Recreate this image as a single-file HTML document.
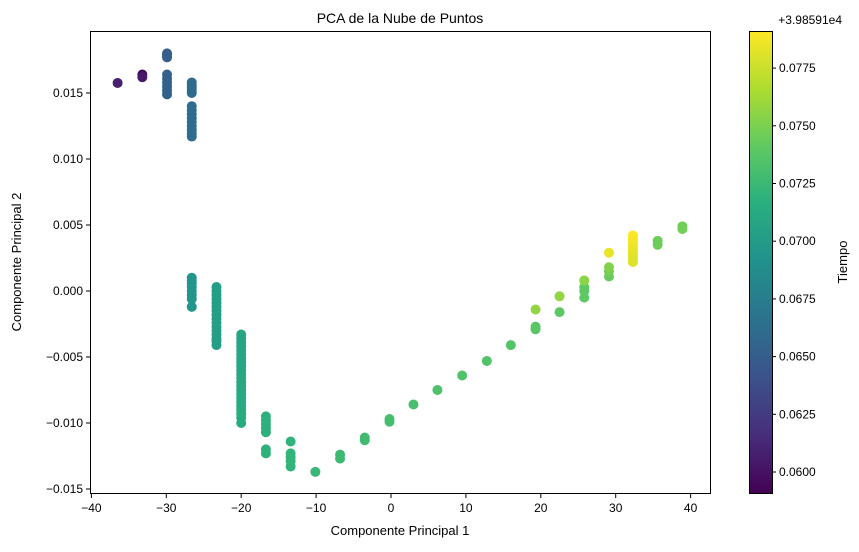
<!DOCTYPE html>
<html><head><meta charset="utf-8"><style>
body{margin:0;background:#fff;font-family:"Liberation Sans",sans-serif;}
svg text{font-family:"Liberation Sans",sans-serif;fill:#000;}
</style></head><body>
<svg id="chart" width="859" height="547" xmlns="http://www.w3.org/2000/svg">
<defs><linearGradient id="vir" x1="0" y1="1" x2="0" y2="0">
<stop offset="0" stop-color="#440154"/><stop offset="0.125" stop-color="#472d7b"/><stop offset="0.25" stop-color="#3b528b"/><stop offset="0.375" stop-color="#2c728e"/><stop offset="0.5" stop-color="#21918c"/><stop offset="0.625" stop-color="#28ae80"/><stop offset="0.75" stop-color="#5ec962"/><stop offset="0.875" stop-color="#addc30"/><stop offset="1" stop-color="#fde725"/></linearGradient></defs>
<text x="400" y="23" font-size="14" text-anchor="middle">PCA de la Nube de Puntos</text>
<g id="plot"></g>
<rect x="90.5" y="31.5" width="620" height="462" fill="none" stroke="#000" stroke-width="1"/>
<g id="xticks"></g><g id="yticks"></g>
<text x="400" y="535" font-size="13" text-anchor="middle">Componente Principal 1</text>
<text transform="translate(21,262) rotate(-90)" font-size="13" text-anchor="middle">Componente Principal 2</text>
<rect x="749.5" y="31.5" width="23" height="462" fill="url(#vir)" stroke="#000" stroke-width="1"/>
<g id="cticks"></g>
<text x="842" y="24" font-size="12" text-anchor="end">+3.98591e4</text>
<text transform="translate(847,262) rotate(-90)" font-size="13" text-anchor="middle">Tiempo</text>
</svg>
<script>
const px=[-36.5,-33.2,-33.2,
-29.9,-29.9,-29.9,-29.9,-29.9,-29.9,-29.9,-29.9,-29.9,-29.9,
-26.6,-26.6,-26.6,-26.6,-26.6,-26.6,-26.6,-26.6,-26.6,-26.6,-26.6,-26.6,-26.6,
-26.6,-26.6,-26.6,-26.6,-26.6,-26.6,-26.6,-26.6,-26.6,
-23.3,-23.3,-23.3,-23.3,-23.3,-23.3,-23.3,-23.3,-23.3,-23.3,-23.3,-23.3,-23.3,-23.3,-23.3,-23.3,
-20,-20,-20,-20,-20,-20,-20,-20,-20,-20,-20,-20,-20,-20,-20,-20,-20,-20,-20,-20,-20,-20,-20,
-16.7,-16.7,-16.7,-16.7,-16.7,-16.7,-16.7,
-13.4,-13.4,-13.4,-13.4,-13.4,
-10.1,-6.8,-6.8,-3.5,-3.5,-0.2,-0.2,3,6.2,9.5,12.8,16,19.3,19.3,19.3,22.5,22.5,25.8,25.8,25.8,25.8,29.1,29.1,29.1,29.1,
32.3,32.3,32.3,32.3,32.3,32.3,32.3,32.3,32.3,32.3,32.3,35.6,35.6,38.9,38.9];
const py=[0.01576,0.0164,0.0162,
0.0180,0.0179,0.0178,0.0177,0.0164,0.0161,0.0158,0.0155,0.0152,0.0149,
0.0158,0.0156,0.0154,0.0152,0.0150,0.0140,0.0137,0.0134,0.0131,0.0128,0.0125,0.0122,0.0119,
0.0117,0.0010,0.0008,0.0006,0.0003,0.0000,-0.0003,-0.0006,-0.0012,
0.0003,0.0000,-0.0003,-0.0006,-0.0009,-0.0012,-0.0015,-0.0018,-0.0021,-0.0024,-0.0027,-0.0030,-0.0033,-0.0036,-0.0038,-0.0041,
-0.0033,-0.0036,-0.0039,-0.0042,-0.0045,-0.0048,-0.0051,-0.0054,-0.0057,-0.0060,-0.0063,-0.0066,-0.0069,-0.0072,-0.0075,-0.0078,-0.0081,-0.0084,-0.0087,-0.0090,-0.0093,-0.0096,-0.0100,
-0.0095,-0.0098,-0.0101,-0.0104,-0.0107,-0.0120,-0.0123,
-0.0114,-0.0123,-0.0126,-0.0129,-0.0133,
-0.0137,-0.0124,-0.0127,-0.0111,-0.0113,-0.0097,-0.0099,-0.0086,-0.0075,-0.0064,-0.0053,-0.0041,-0.0027,-0.0029,-0.0014,-0.0016,-0.0004,0.0003,0.0000,-0.0005,0.0008,0.0011,0.0015,0.0018,0.0029,
0.0042,0.0040,0.0038,0.0036,0.0034,0.0032,0.0030,0.0028,0.0026,0.0024,0.0022,0.0038,0.0035,0.0049,0.0047];
const pt=[0.0608,0.0595,0.0605,
0.0650,0.0650,0.0650,0.0650,0.0652,0.0652,0.0652,0.0652,0.0652,0.0652,
0.0660,0.0660,0.0660,0.0660,0.0660,0.0661,0.0661,0.0661,0.0661,0.0661,0.0661,0.0661,0.0661,
0.0661,0.0695,0.0695,0.0695,0.0695,0.0695,0.0695,0.0695,0.0695,
0.0703,0.0703,0.0703,0.0703,0.0703,0.0703,0.0703,0.0703,0.0703,0.0703,0.0703,0.0703,0.0703,0.0703,0.0703,0.0703,
0.0708,0.0708,0.0708,0.0709,0.0709,0.0709,0.0709,0.0710,0.0710,0.0710,0.0710,0.0711,0.0711,0.0711,0.0711,0.0712,0.0712,0.0712,0.0712,0.0713,0.0713,0.0713,0.0713,
0.0718,0.0718,0.0718,0.0718,0.0718,0.0719,0.0719,
0.0720,0.0721,0.0721,0.0721,0.0721,
0.0724,0.0726,0.0726,0.0728,0.0728,0.0730,0.0730,0.0732,0.0733,0.0734,0.0735,0.0736,0.0738,0.0738,0.0757,0.0740,0.0757,0.0741,0.0741,0.0741,0.0755,0.0743,0.0748,0.0752,0.0785,
0.0791,0.0790,0.0789,0.0788,0.0787,0.0786,0.0785,0.0784,0.0783,0.0782,0.0781,0.0746,0.0746,0.0747,0.0747];
const xTicks=[-40,-30,-20,-10,0,10,20,30,40];
const yTicks=[-0.015,-0.010,-0.005,0.000,0.005,0.010,0.015];
const cTicks=[0.0600,0.0625,0.0650,0.0675,0.0700,0.0725,0.0750,0.0775];
const NS="http://www.w3.org/2000/svg";
const X=v=>391+v*7.49;
const Y=v=>291-v*13200;
const C=v=>472-(v-0.06)*23080;
const cmin=0.05905,cmax=0.0791;
const stops=[[68,1,84],[72,45,123],[59,82,139],[44,114,142],[33,145,140],[40,174,128],[94,201,98],[173,220,48],[253,231,37]];
function vir(t){let u=Math.max(0,Math.min(1,(t-cmin)/(cmax-cmin)))*8;let i=Math.min(7,Math.floor(u)),f=u-i;const a=stops[i],b=stops[i+1];return `rgb(${a.map((c,k)=>Math.round(c+(b[k]-c)*f)).join(',')})`;}
function mk(tag,at,parent){const e=document.createElementNS(NS,tag);for(const k in at)e.setAttribute(k,at[k]);parent.appendChild(e);return e;}
const plot=document.getElementById('plot');
px.forEach((x,i)=>{const c=mk('circle',{cx:X(x),cy:Y(py[i]),r:5,fill:vir(pt[i])},plot);

});
const xg=document.getElementById('xticks');
xTicks.forEach(v=>{const g=mk('g',{},xg);


mk('line',{x1:X(v),x2:X(v),y1:494,y2:498,stroke:'#000'},g);
const t=mk('text',{x:X(v),y:512,'font-size':12,'text-anchor':'middle'},g);t.textContent=String(v).replace('-','−');});
const yg=document.getElementById('yticks');
yTicks.forEach(v=>{const g=mk('g',{},yg);


mk('line',{x1:86,x2:90,y1:Y(v),y2:Y(v),stroke:'#000'},g);
const t=mk('text',{x:83,y:Y(v)+4,'font-size':12,'text-anchor':'end'},g);t.textContent=v.toFixed(3).replace('-','−');});
const cg=document.getElementById('cticks');
cTicks.forEach(v=>{const g=mk('g',{},cg);


mk('line',{x1:772,x2:776,y1:C(v),y2:C(v),stroke:'#000'},g);
const t=mk('text',{x:779,y:C(v)+4,'font-size':12},g);t.textContent=v.toFixed(4);});
</script>
</body></html>
